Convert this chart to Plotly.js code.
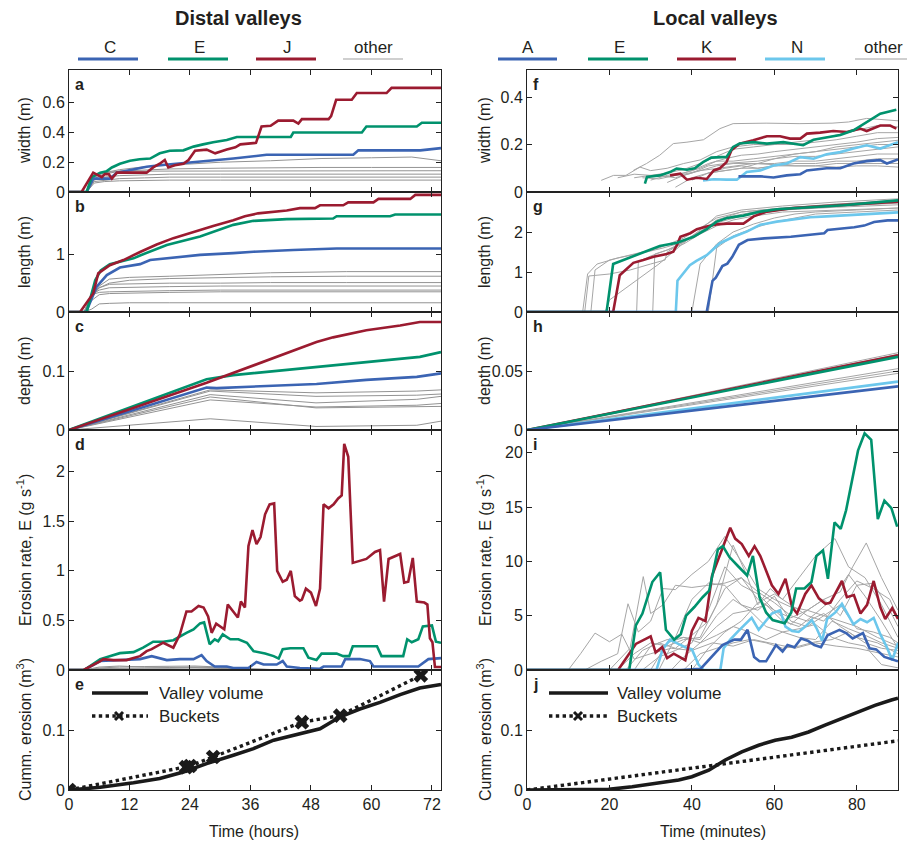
<!DOCTYPE html>
<html><head><meta charset="utf-8">
<script src="https://cdn.plot.ly/plotly-3.0.1.min.js"></script>
<style>html,body{margin:0;padding:0;background:#fff}#chart{width:907px;height:841px}</style>
</head><body><div id="chart"></div>
<script>
// ---------------- DATA (left column: time in hours) ----------------
// (a) width
const tJa=[0,2.5,4.8,5.4,6.5,7.1,7.9,8.5,9.5,15.4,16.7,18,19,19.7,21,22.7,23.7,25,27.3,29,30.3,31.3,33,34,37.1,38.2,40,41.5,44.5,45.5,46.2,51.5,52,53,56.1,57.1,63,64,73.8];
const vJa=[0,0,0.13,0.12,0.10,0.12,0.12,0.09,0.13,0.13,0.165,0.19,0.215,0.165,0.18,0.19,0.215,0.277,0.285,0.26,0.277,0.285,0.30,0.32,0.33,0.44,0.445,0.48,0.48,0.46,0.49,0.49,0.51,0.62,0.62,0.665,0.665,0.70,0.70];
const tEa=[0,3.5,4.5,6.2,7.5,8.5,10.1,12.1,14,16.1,18,20,22.7,24.7,26.6,28.6,31.3,33.3,44,44.5,58.1,59,69,70,73.8];
const vEa=[0,0,0.10,0.13,0.14,0.165,0.19,0.21,0.22,0.225,0.26,0.277,0.28,0.305,0.32,0.335,0.35,0.37,0.37,0.40,0.40,0.44,0.44,0.465,0.465];
const tCa=[0,3.5,4.8,8.1,9.5,12.8,15.4,18,21.4,24.7,28.6,32.6,39.2,56.4,57.4,69.7,73.8];
const vCa=[0,0,0.09,0.09,0.13,0.15,0.17,0.18,0.19,0.20,0.215,0.225,0.25,0.25,0.28,0.28,0.295];
const tGa=[0,3.5,5,7,10,15,20,30,40,50,60,68,73.8];
const grayA=[
 [0,0,0.10,0.13,0.15,0.17,0.18,0.20,0.21,0.225,0.23,0.235,0.21],
 [0,0,0.09,0.12,0.14,0.15,0.155,0.16,0.165,0.165,0.165,0.165,0.165],
 [0,0,0.10,0.13,0.14,0.14,0.14,0.143,0.143,0.143,0.143,0.143,0.143],
 [0,0,0.08,0.10,0.11,0.115,0.12,0.12,0.12,0.12,0.12,0.12,0.12],
 [0,0,0.07,0.08,0.09,0.095,0.10,0.10,0.10,0.10,0.10,0.10,0.10],
 [0,0,0.06,0.07,0.075,0.078,0.08,0.08,0.08,0.08,0.08,0.08,0.08]];
// (b) length
const tJb=[0,2.2,4.8,5.8,8.1,10.8,14.1,17.4,20.7,24.7,28.6,32.6,34.9,37.5,43.2,45.8,48.8,49.8,54.4,55.4,60.4,61.4,67.7,68.7,73.8];
const vJb=[0,0,0.32,0.67,0.81,0.90,1.04,1.17,1.28,1.39,1.49,1.59,1.66,1.71,1.76,1.80,1.80,1.85,1.85,1.90,1.90,1.96,1.96,2.03,2.03];
const tEb=[0,3.5,5.2,6.3,8.1,10.8,12.8,14.1,19.4,26,32.6,36.6,43.2,52.4,53.1,63.7,64.7,73.8];
const vEb=[0,0,0.55,0.72,0.83,0.88,0.93,0.98,1.16,1.31,1.51,1.58,1.61,1.62,1.66,1.66,1.69,1.69];
const tCb=[0,3.4,5.5,7.5,10.1,14.1,16.1,20.7,26,32.6,36.6,44.5,53.1,73.8];
const vCb=[0,0,0.44,0.64,0.77,0.83,0.90,0.94,0.99,1.02,1.045,1.075,1.10,1.10];
const tGb=[0,3,4.5,6,8,12,20,30,40,55,73.8];
const grayB=[
 [0,0,0.25,0.45,0.57,0.60,0.62,0.65,0.68,0.70,0.70],
 [0,0,0.25,0.42,0.50,0.55,0.58,0.60,0.61,0.62,0.62],
 [0,0,0.30,0.42,0.48,0.49,0.50,0.50,0.51,0.51,0.51],
 [0,0,0.30,0.38,0.42,0.43,0.44,0.45,0.45,0.45,0.45],
 [0,0,0.30,0.34,0.35,0.36,0.37,0.38,0.38,0.38,0.38],
 [0,0,0.20,0.30,0.32,0.33,0.34,0.35,0.35,0.35,0.35],
 [0,0,0.05,0.14,0.15,0.16,0.16,0.16,0.16,0.16,0.16]];
// (c) depth
const tJc=[0,27.3,49.1,52.4,59,65.7,69.6,73.8];
const vJc=[0,0.080,0.149,0.157,0.169,0.177,0.183,0.183];
const tEc=[0,27.3,32.6,45.8,59,69.6,73.8];
const vEc=[0,0.086,0.093,0.104,0.116,0.124,0.132];
const tCc=[0,27.3,29.3,39.2,49.1,59,69,73.8];
const vCc=[0,0.072,0.071,0.075,0.078,0.085,0.090,0.096];
const tGc=[0,28,49,69,73.8];
const grayC=[
 [0,0.068,0.063,0.066,0.068],
 [0,0.066,0.057,0.059,0.061],
 [0,0.060,0.046,0.052,0.057],
 [0,0.056,0.0375,0.039,0.040],
 [0,0.051,0.039,0.042,0.045],
 [0,0.019,0.006,0.008,0.015]];
// (d) erosion rate
const tJd=[0,2.9,6.2,6.8,8.8,11.4,12.8,14.1,15.4,16.4,18.7,19.4,20.7,22,23.3,24.3,25.7,26.7,27.6,28.3,29.2,30.8,31.5,33.5,34.1,34.9,35.6,36.4,37.2,38,38.9,39.8,40.7,41.3,42.4,43.2,44,44.8,45.8,46.2,47.0,48.0,49.0,49.8,50.5,51.5,52.5,53.4,54.1,54.6,55.4,56.3,57.7,59,60.7,61.7,62.5,63.4,65.7,66.5,67.3,68.2,69,70.5,71.1,71.6,72.1,72.6,73.8];
const vJd=[0,0,0.09,0.11,0.10,0.10,0.12,0.14,0.19,0.21,0.275,0.26,0.225,0.36,0.59,0.59,0.645,0.63,0.54,0.375,0.466,0.41,0.66,0.53,0.69,0.63,1.25,1.41,1.27,1.34,1.57,1.67,1.68,1.0,0.89,0.91,1.0,0.745,0.70,0.71,0.82,0.78,0.645,0.82,1.67,1.63,1.67,1.73,1.76,2.28,2.15,1.08,1.10,1.12,1.19,1.21,0.69,1.12,1.17,0.88,0.89,1.13,0.69,0.68,0.66,0.32,0.28,0.03,0.03];
const tEd=[0,3,6.2,8.1,10.1,12.8,14.7,16.7,18.7,20.7,22,23.3,24.7,26,26.8,27.9,28.9,29.6,30.5,32,33.6,35.3,36.6,38,38.9,40.6,41.6,42.4,43.9,46.5,47.5,49.1,50.1,53.1,54.4,55.6,56.3,61.1,62,66.3,67.1,68,69.3,70.2,72,72.8,73.8];
const vEd=[0,0,0.11,0.14,0.17,0.18,0.225,0.285,0.285,0.30,0.34,0.375,0.41,0.47,0.48,0.26,0.31,0.29,0.36,0.31,0.31,0.275,0.19,0.18,0.166,0.14,0.115,0.21,0.22,0.22,0.124,0.10,0.165,0.165,0.14,0.14,0.24,0.24,0.14,0.14,0.31,0.28,0.31,0.44,0.45,0.285,0.275];
const tCd=[0,3,6.2,10.1,14.1,16.4,18,19.4,22,24.7,26.3,27.3,28.9,31.3,32.6,35.6,37.2,38.6,41.2,42.4,43.2,45.8,49.8,50.5,54.1,54.8,57.7,59.7,60.4,69.3,71.3,73.8];
const vCd=[0,0,0.09,0.10,0.11,0.14,0.12,0.10,0.11,0.11,0.15,0.09,0.035,0.035,0.02,0.02,0.08,0.055,0.055,0.09,0.035,0.02,0.013,0.035,0.035,0.11,0.11,0.09,0.035,0.035,0.11,0.12];
const tGd=[0,3,6,10,15,20,25,30,35,40,50,60,73.8];
const grayD=[
 [0,0,0.02,0.03,0.035,0.035,0.04,0.03,0.01,0.005,0.003,0.002,0],
 [0,0,0.03,0.04,0.03,0.025,0.03,0.02,0.01,0.005,0,0,0],
 [0,0,0.015,0.02,0.02,0.02,0.025,0.015,0.008,0.004,0.002,0,0],
 [0,0,0.01,0.01,0.012,0.015,0.015,0.01,0.005,0.003,0.002,0.002,0.001]];
// (e) cumulative erosion
const tVe=[0,6.2,12.8,18,22.7,27.3,32.6,36.6,40.6,45.8,49.8,53.8,57.7,61.7,65.7,69.6,73.8];
const vVe=[0,0.0045,0.012,0.019,0.030,0.044,0.058,0.069,0.083,0.094,0.102,0.122,0.135,0.146,0.159,0.170,0.176];
const tBe=[0,23.2,24.0,28.6,46.2,53.8,69.8];
const vBe=[0,0.038,0.040,0.055,0.113,0.124,0.191];

// ---------------- DATA (right column: time in minutes) ----------------
// (f) width
const tAf=[51.3,56.6,59.8,63,66.3,67.9,72.7,76,79.2,82.4,85.7,87.3,90];
const vAf=[0.066,0.066,0.061,0.07,0.075,0.091,0.10,0.10,0.12,0.13,0.134,0.12,0.137];
const tEf=[28.6,29.1,32.2,34.7,36.3,38.8,40.7,42.7,44.7,46.8,48.4,50,51.6,54.9,58.2,62.2,67,69.5,72.7,76,79.2,82.4,85.7,89.6];
const vEf=[0.035,0.063,0.07,0.084,0.099,0.094,0.10,0.126,0.145,0.148,0.148,0.19,0.204,0.21,0.204,0.21,0.197,0.22,0.23,0.24,0.26,0.295,0.33,0.347];
const tKf=[34.7,37.2,38.8,41.2,43.6,45.3,46.8,48.4,49.6,51.6,54.9,58.2,61.4,63.8,66.3,67.9,71.1,74.3,77.6,80.8,82.4,85.7,88.1,89.6];
const vKf=[0.07,0.077,0.052,0.06,0.055,0.091,0.10,0.126,0.176,0.204,0.218,0.235,0.235,0.225,0.225,0.246,0.25,0.257,0.253,0.267,0.257,0.28,0.28,0.267];
const tNf=[42.7,45.3,48.4,50.9,53.3,56.6,59.8,63,66.3,69.5,72.7,76,79.2,82.4,85.7,88.9,90];
const vNf=[0.049,0.054,0.052,0.052,0.084,0.091,0.112,0.12,0.147,0.14,0.159,0.168,0.183,0.197,0.183,0.204,0.21];
const grayF=[
 [[25.8,29,32.2,35.5,38.8,42.8,46.8,50,58,66,74,78,82.4,86,90],[0.091,0.12,0.155,0.204,0.21,0.22,0.267,0.288,0.29,0.288,0.29,0.295,0.31,0.305,0.30]],
 [[18,21,24,27.4,30,34,38,42,46,50,55,60,65,70,75,80,85,90],[0.049,0.07,0.07,0.105,0.09,0.10,0.12,0.135,0.17,0.19,0.20,0.20,0.21,0.22,0.24,0.26,0.28,0.274]],
 [[22,26,30,34,38,42,46,50,55,60,65,70,75,80,85,90],[0.06,0.075,0.07,0.08,0.095,0.12,0.15,0.18,0.19,0.20,0.20,0.21,0.22,0.235,0.25,0.25]],
 [[28,32,36,40,44,48,52,56,60,65,70,75,80,85,90],[0.06,0.055,0.07,0.09,0.12,0.14,0.155,0.16,0.17,0.18,0.19,0.20,0.21,0.225,0.23]],
 [[30,34,38,42,46,50,55,60,65,70,75,80,85,90],[0.05,0.07,0.08,0.10,0.13,0.13,0.14,0.15,0.16,0.17,0.19,0.20,0.21,0.218]],
 [[32,36,40,44,48,52,56,60,65,70,75,80,85,90],[0.07,0.06,0.08,0.11,0.12,0.125,0.13,0.14,0.15,0.15,0.16,0.17,0.18,0.19]],
 [[34,38,42,46,50,55,60,65,70,75,80,85,90],[0.04,0.07,0.09,0.10,0.11,0.12,0.12,0.13,0.13,0.14,0.15,0.16,0.16]],
 [[36,40,44,48,52,56,60,65,70,75,80,85,90],[0.02,0.06,0.08,0.10,0.11,0.10,0.11,0.12,0.12,0.13,0.13,0.14,0.14]],
 [[40,44,48,52,56,60,65,70,75,80,85,90],[0.05,0.08,0.09,0.10,0.10,0.11,0.11,0.11,0.12,0.12,0.12,0.12]],
 [[26,30,34,38,42,46,50,55,60,65,70,75,80,85,90],[0.06,0.07,0.065,0.075,0.09,0.11,0.12,0.12,0.115,0.11,0.11,0.105,0.11,0.11,0.105]],
 [[44,48,52,56,60,65,70,75,80,85,90],[0.08,0.09,0.10,0.12,0.14,0.16,0.17,0.18,0.19,0.20,0.20]]];
// (g) length
const tAg=[0,43.6,45,45.8,47.4,48.6,49.8,51.4,53.5,57.5,64,68.9,72.1,72.9,76.2,79.4,81.8,84.2,87.5,90];
const vAg=[0,0,0.78,0.86,1.15,1.21,1.38,1.68,1.80,1.84,1.88,1.94,1.97,2.05,2.08,2.12,2.16,2.25,2.29,2.29];
const tNg=[0,36.1,36.5,39.5,41.1,43.6,46.8,50.1,53.3,56.6,60.6,64.6,68.7,72.7,80.8,90];
const vNg=[0,0,0.78,1.17,1.28,1.42,1.72,1.88,2.01,2.18,2.26,2.32,2.37,2.39,2.43,2.49];
const tKg=[0,20.9,22.5,24.2,25.8,28.2,30.7,33.9,35.5,36.4,37.2,39.6,41.2,43.6,46,48.5,52.5,55,58.2,64.6,72.7,80.8,90];
const vKg=[0,0,0.92,1.09,1.23,1.30,1.38,1.45,1.51,1.68,1.88,1.97,2.07,2.14,2.19,2.21,2.21,2.39,2.51,2.60,2.65,2.71,2.76];
const tEg=[0,19.3,20.9,24.2,28.2,32.2,36.4,40.4,43.6,46,48.5,52.5,56.6,60.6,68.7,76.8,90];
const vEg=[0,0,1.20,1.33,1.48,1.65,1.73,1.88,2.07,2.26,2.35,2.41,2.51,2.57,2.62,2.67,2.79];
const grayG=[
 [[13.5,14.7,17,22,29,33,38,42,46,52,62,75,90],[0,0.95,1.2,1.35,1.5,1.6,1.75,2.05,2.4,2.55,2.65,2.75,2.83]],
 [[15.5,16.5,20,26,32,38,42,46,52,62,75,90],[0,1.05,1.3,1.45,1.6,1.85,2.1,2.35,2.5,2.6,2.7,2.78]],
 [[19,20,24,28,32,36,40,45,52,62,75,90],[0,0.3,0.6,0.9,1.2,1.55,1.9,2.2,2.4,2.55,2.65,2.72]],
 [[14,15,20,25,30,33.5,34,38,42,46,52,62,75,90],[0,0.9,0.95,1.05,1.2,1.3,1.5,1.75,2.0,2.3,2.5,2.6,2.7,2.8]],
 [[26.6,27,30,34,38,42,46,50,55,62,75,90],[0,1.25,1.4,1.55,1.75,2.0,2.25,2.4,2.5,2.55,2.62,2.68]],
 [[30.5,31,34,38,42,46,50,55,62,75,90],[0,1.45,1.55,1.7,1.95,2.15,2.3,2.4,2.5,2.55,2.6]],
 [[40,42,46,50,55,60,65,70,80,90],[0,1.2,1.7,2.0,2.2,2.35,2.45,2.5,2.55,2.6]],
 [[44,46,50,55,60,65,70,80,90],[0,1.6,1.9,2.1,2.25,2.35,2.45,2.5,2.55]]];
// (h) depth (straight lines from the origin)
const tH=[0,90];
const vAh=[0,0.037], vNh=[0,0.041], vKh=[0,0.0634], vEh=[0,0.062];
const grayH=[[0,0.0655],[0,0.064],[0,0.052],[0,0.050],[0,0.048]];
// (i) erosion rate
const tAi=[0,37.3,42.1,43.8,45.4,47.4,50.3,51.9,53.5,55.1,56.4,58,60.4,62,63.2,64.9,66.5,68.1,69.7,71.3,72.9,75.8,77.4,79,81.5,83.1,84.7,86.7,90];
const vAi=[0,0,0.1,0.8,1.5,2.3,2.8,2.8,3.7,1.2,0.8,0.8,2.3,1.7,2.3,2.1,2.9,2.7,2.3,2.1,3.2,3.7,3.4,2.9,3.4,2.0,1.9,1.2,0.8];
const tNi=[0,31.4,32.9,34.7,36.7,38.4,40,41.6,42.8,46.9,47.7,49.3,51.3,52.9,54.5,56.2,57.8,59.4,61.4,62.7,64.3,65.9,67.5,69.1,70.3,71.6,72.8,74.8,76.4,77.6,79.2,80.9,82.5,84.1,85.7,87.3,88.6,90];
const vNi=[0,0,1.9,2.8,2.4,2.1,1.9,0.5,0,0,2.0,2.8,3.6,4.2,4.8,3.7,4.5,5.2,5.5,4.0,3.6,3.5,4.0,4.6,3.8,2.7,4.7,5.3,6.1,5.3,4.2,4.7,4.4,4.8,3.3,2.1,0.9,2.5];
const tKi=[0,22.1,26.4,30,31.2,32.8,34,35.6,38.4,40,41.6,43.3,44.9,47.3,49.3,50.5,52.1,53.8,55.2,56.6,59.4,61,62.7,64.3,65.5,67.5,69,70.8,72.4,73.6,76.4,77.6,79.3,80.9,82.5,84.1,85.7,86.9,88.6,90];
const vKi=[0,0,2.4,3.1,1.6,2.1,1.1,1.5,0.9,3.6,4.8,4.5,8.7,11.0,13.1,12.1,11.6,10.5,11.4,10.5,7.8,7.0,8.4,5.8,5.2,7.0,7.8,6.6,6.1,6.2,8.2,6.7,6.9,5.2,6.0,8.2,5.8,4.7,5.7,4.7];
const tEi=[0,24.8,26.4,28,30.4,32.3,33.7,35.7,37.3,38.6,40.6,42.6,44.2,46.3,47.5,49.1,51.1,53.4,54.8,56.4,58,59.6,62.5,64.1,65.3,67.3,69,70.2,71.8,73,74.6,76.1,77.4,80.3,81.9,83.5,85.1,86.7,88.4,89.8];
const vEi=[0,0,4.1,5.2,8.1,9.0,3.7,2.8,3.3,5.0,5.8,6.7,7.3,11.1,11.4,10.4,9.6,8.7,10.5,6.7,5.3,4.6,4.3,5.3,7.5,7.5,8.1,10.5,11.0,8.4,13.6,13.0,14.7,20.2,21.8,21.2,13.9,15.6,14.9,13.2];
const grayI=[
 [[10,13,16.5,20,23,26,30,35,40,45,50,55,60,65,70,75,80,85,90],[0,1.5,3.4,2.6,3.3,1.0,1.5,2.0,1.8,2.5,2.2,2.8,2.4,2.0,2.5,2.2,2.0,1.6,1.2]],
 [[14,18,22,24.5,27,30,33,36,40,44,48,52,56,60,64,68,72,76,80,85,90],[0,0.8,1.5,6.1,3.5,4.5,7.5,7.4,8.8,10.0,12.3,10.0,7.5,6.5,5.8,5.5,5.0,4.5,4.0,3.0,2.2]],
 [[20,25,28.2,30,33,36,40,44,48,52,56,60,64,68,72,76,80,85,90],[0,2,8.6,5.2,6,7.8,7.6,7.8,8,8.5,7.2,6.2,5,4.5,5.2,4,3,2.5,1.5]],
 [[22,26,30,34,38,42,46,50,53,56,59,62,66,70,74.7,78,82,86,90],[0,1.5,2.5,2.2,2.8,3.0,6,11.5,9,6,7.5,6.5,8.5,10.5,12.1,9.5,8.5,6,3]],
 [[24,28,32,36,40,44,48,52,56,60,64,68,72,76,79,82.3,86,90],[0,1.8,2.5,2.0,3.2,4.5,7.5,8.5,6.5,5.5,4.2,5.5,6.5,7.2,9.5,11.7,8.5,5.5]],
 [[26,30,34,38,42,46,50,54,58,62,66,70,74,78,82,86,90],[0,2.2,2.8,3.0,2.5,3.2,4.0,3.5,2.8,3.5,3.0,2.8,4.5,3.8,3.2,2.5,2.0]],
 [[28,32,36,40,44,48,52,56,60,64,68,72,76,80,84,88,90],[0,1.2,1.8,2.5,5.5,9.5,7.8,7.0,5.5,4.8,5.5,6.5,5.0,7.8,8.0,5.5,4.0]],
 [[30,34,38,42,46,50,54,58,62,66,70,74,78,82,86,90],[0,2.5,3.0,2.8,5.0,6.5,5.5,4.0,3.5,3.8,4.2,3.0,2.5,2.2,0.5,0.2]],
 [[32,36,40,44,48,52,56,60,64,68,72,76,80,84,88,90],[0,3,6.5,8.0,7.8,6.0,5.5,6.8,4.5,4.0,5.0,6.0,3.8,3.5,3.0,2.5]],
 [[35,38,42,46,50,54,58,62,66,70,74,78,82,86,90],[0,1.2,2.5,4.0,5.2,5.5,6.0,4.5,4.0,5.2,6.5,8.8,6.8,4.5,2.0]],
 [[38,42,46,50,54,58,62,66,70,74,78,82,86,90],[0,1.5,2.0,2.5,2.8,2.5,2.0,2.2,2.6,2.8,3.5,2.5,2.0,1.8]],
 [[40,44,48,52,56,60,64,68,72,76,80,84,88,90],[0,2.0,3.5,4.5,6.2,7.0,6.0,5.0,4.5,6.5,8.2,7.5,6.5,4.8]]];
// (j) cumulative erosion
const tVj=[0,19.8,25.5,31.9,36.8,40,44.1,48.1,52.1,56.2,60.2,64.2,68.3,72.3,76.3,80.3,84.4,88.4,90];
const vVj=[0,0.001,0.0055,0.011,0.0166,0.022,0.033,0.050,0.0635,0.0746,0.083,0.088,0.0967,0.108,0.119,0.130,0.141,0.150,0.153];
const tBj=[0,90];
const vBj=[0,0.082];

// tick labels
const xTicksL=[0,12,24,36,48,60,72];
const xTicksR=[0,20,40,60,80];
const yTicks={
 1:[[0,0.2,0.4,0.6],['0','0.2','0.4','0.6']],
 2:[[0,1],['0','1']],
 3:[[0,0.1],['0','0.1']],
 4:[[0,0.5,1,1.5,2],['0','0.5','1','1.5','2']],
 5:[[0,0.1],['0','0.1']],
 6:[[0,0.2,0.4],['0','0.2','0.4']],
 7:[[0,1,2],['0','1','2']],
 8:[[0,0.05],['0','0.05']],
 9:[[0,5,10,15,20],['0','5','10','15','20']],
 10:[[0,0.1],['0','0.1']]};
const yRanges={1:[0,0.82],2:[0,2.08],3:[0,0.2],4:[0,2.42],5:[0,0.2],6:[0,0.514],7:[0,3.0],8:[0,0.1],9:[0,22.1],10:[0,0.2]};
const yTitles=['width (m)','length (m)','depth (m)','Erosion rate, E (g s<sup>-1</sup>)','Cumm. erosion (m<sup>3</sup>)'];
const letters=['a','b','c','d','e','f','g','h','i','j'];
const legendLabelsL=['C','E','J','other'];
const legendLabelsR=['A','E','K','N','other'];

// ---------------- STYLE / LAYOUT ----------------
const W=907,H=841;
const FONT='Liberation Sans, Arial, sans-serif';
const TXT='#231f20';
const BLUE='#3b64b3', GREEN='#00926d', RED='#9b1b30', LBLUE='#6cc7ec', GRAYL='#939393', GRAYR='#a6a6a6';
const X=p=>p/W, Y=p=>1-p/H;
const colPx=[[69,441],[527,898]];
const rowPx=[[70,192],[192,312],[312,430],[430,670],[670,790]];

const traces=[];
function ax(i){return i===1?'':String(i);}
function ln(x,y,i,color,width,extra){
  const t={type:'scatter',mode:'lines',x:x,y:y,xaxis:'x'+ax(i),yaxis:'y'+ax(i),
    line:{color:color,width:width},hoverinfo:'skip',showlegend:false};
  return Object.assign(t,extra||{});
}
// a
grayA.forEach(v=>traces.push(ln(tGa,v,1,GRAYL,1)));
traces.push(ln(tCa,vCa,1,BLUE,2.6),ln(tEa,vEa,1,GREEN,2.6),ln(tJa,vJa,1,RED,2.6));
// b
grayB.forEach(v=>traces.push(ln(tGb,v,2,GRAYL,1)));
traces.push(ln(tCb,vCb,2,BLUE,2.6),ln(tEb,vEb,2,GREEN,2.6),ln(tJb,vJb,2,RED,2.6));
// c
grayC.forEach(v=>traces.push(ln(tGc,v,3,GRAYL,1)));
traces.push(ln(tCc,vCc,3,BLUE,2.6),ln(tEc,vEc,3,GREEN,2.6),ln(tJc,vJc,3,RED,2.6));
// d
grayD.forEach(v=>traces.push(ln(tGd,v,4,GRAYL,1)));
traces.push(ln(tCd,vCd,4,BLUE,2.6),ln(tEd,vEd,4,GREEN,2.6),ln(tJd,vJd,4,RED,2.6));
// e
traces.push(ln(tVe,vVe,5,'#1a1a1a',3.6));
traces.push(ln(tBe,vBe,5,'#1a1a1a',3.4,{mode:'lines+markers',line:{color:'#1a1a1a',width:3.4,dash:'dot'},
  marker:{symbol:'x',size:13,color:'#1a1a1a'}}));
// f
grayF.forEach(s=>traces.push(ln(s[0],s[1],6,GRAYR,1)));
traces.push(ln(tNf,vNf,6,LBLUE,2.6),ln(tKf,vKf,6,RED,2.6),ln(tEf,vEf,6,GREEN,2.6),ln(tAf,vAf,6,BLUE,2.6));
// g
grayG.forEach(s=>traces.push(ln(s[0],s[1],7,GRAYR,1)));
traces.push(ln(tNg,vNg,7,LBLUE,2.6),ln(tKg,vKg,7,RED,2.6),ln(tEg,vEg,7,GREEN,2.6),ln(tAg,vAg,7,BLUE,2.6));
// h
grayH.forEach(v=>traces.push(ln(tH,v,8,GRAYR,1)));
traces.push(ln(tH,vNh,8,LBLUE,2.6),ln(tH,vKh,8,RED,2.6),ln(tH,vEh,8,GREEN,2.6),ln(tH,vAh,8,BLUE,2.6));
// i
grayI.forEach(s=>traces.push(ln(s[0],s[1],9,GRAYR,1)));
traces.push(ln(tNi,vNi,9,LBLUE,2.6),ln(tKi,vKi,9,RED,2.6),ln(tEi,vEi,9,GREEN,2.6),ln(tAi,vAi,9,BLUE,2.6));
// j
traces.push(ln(tVj,vVj,10,'#1a1a1a',3.6));
traces.push(ln(tBj,vBj,10,'#1a1a1a',3.4,{line:{color:'#1a1a1a',width:3.4,dash:'dot'}}));

const layout={width:W,height:H,margin:{l:0,r:0,t:0,b:0},paper_bgcolor:'#fff',plot_bgcolor:'#fff',
  font:{family:FONT,color:TXT,size:16},showlegend:false,annotations:[],shapes:[]};
function note(px,py,text,opts){
  return Object.assign({xref:'paper',yref:'paper',x:X(px),y:Y(py),text:text,showarrow:false,
    xanchor:'center',yanchor:'middle',font:{size:16,color:TXT,family:FONT}},opts||{});
}
const axBase={showline:true,linecolor:'#222',linewidth:1,mirror:'ticks',ticks:'inside',ticklen:5,tickwidth:1,
  tickcolor:'#222',showgrid:false,zeroline:false,fixedrange:true,tickfont:{family:FONT,size:16,color:TXT}};
for(let i=1;i<=10;i++){
  const col=i<=5?0:1, row=(i-1)%5;
  const cx=colPx[col], ry=rowPx[row];
  layout['xaxis'+ax(i)]=Object.assign({},axBase,{
    domain:[X(cx[0]),X(cx[1])],anchor:'y'+ax(i),
    range:col===0?[0,73.8]:[0,90],
    tickmode:'array',tickvals:col===0?xTicksL:xTicksR,
    showticklabels:row===4});
  layout['yaxis'+ax(i)]=Object.assign({},axBase,{
    domain:[Y(ry[1]),Y(ry[0])],anchor:'x'+ax(i),
    range:yRanges[i],tickmode:'array',tickvals:yTicks[i][0],ticktext:yTicks[i][1]});
  layout.annotations.push(note(cx[0]+4,ry[0]+4,'<b>'+letters[i-1]+'</b>',{xanchor:'left',yanchor:'top'}));
  layout.annotations.push(note(col===0?24:484,(ry[0]+ry[1])/2,yTitles[row],{textangle:-90}));
}
// column titles
layout.annotations.push(note(238,18.5,'<b>Distal valleys</b>',{font:{size:20,color:TXT,family:FONT}}));
layout.annotations.push(note(715,18.5,'<b>Local valleys</b>',{font:{size:20,color:TXT,family:FONT}}));
// x titles
layout.annotations.push(note(254,831,'Time (hours)'));
layout.annotations.push(note(713,831,'Time (minutes)'));
// top legends
const legGeomL=[[110,78,138,BLUE,3],[199,168,228,GREEN,3],[287,256,316,RED,3],[373,343,403,'#a0a0a0',1.2]];
const legGeomR=[[528,498,557,BLUE,3],[619,588,648,GREEN,3],[707,677,736,RED,3],[797,765,825,LBLUE,3],[883,855,907,'#a0a0a0',1.2]];
function addLeg(labels,geom){
  labels.forEach((lab,k)=>{
    const g=geom[k];
    layout.annotations.push(note(g[0],47.5,lab,{font:{size:17,color:TXT,family:FONT}}));
    layout.shapes.push({type:'line',xref:'paper',yref:'paper',x0:X(g[1]),x1:X(g[2]),y0:Y(59),y1:Y(59),line:{color:g[3],width:g[4]}});
  });
}
addLeg(legendLabelsL,legGeomL);
addLeg(legendLabelsR,legGeomR);
// in-panel legends (e, j)
[[92,148,157,119],[549,608,615,578]].forEach(g=>{
  layout.shapes.push({type:'line',xref:'paper',yref:'paper',x0:X(g[0]),x1:X(g[1]),y0:Y(693),y1:Y(693),line:{color:'#1a1a1a',width:3.6}});
  layout.shapes.push({type:'line',xref:'paper',yref:'paper',x0:X(g[0]),x1:X(g[1]),y0:Y(716),y1:Y(716),line:{color:'#1a1a1a',width:3.4,dash:'dot'}});
  layout.shapes.push({type:'line',xref:'paper',yref:'paper',x0:X(g[3]-4),x1:X(g[3]+4),y0:Y(712),y1:Y(720),line:{color:'#1a1a1a',width:3}});
  layout.shapes.push({type:'line',xref:'paper',yref:'paper',x0:X(g[3]-4),x1:X(g[3]+4),y0:Y(720),y1:Y(712),line:{color:'#1a1a1a',width:3}});
  layout.annotations.push(note(g[2],693,'Valley volume',{xanchor:'left',font:{size:17,color:TXT,family:FONT}}));
  layout.annotations.push(note(g[2],716,'Buckets',{xanchor:'left',font:{size:17,color:TXT,family:FONT}}));
});

Plotly.newPlot('chart',traces,layout,{displayModeBar:false,staticPlot:true});
</script></body></html>
